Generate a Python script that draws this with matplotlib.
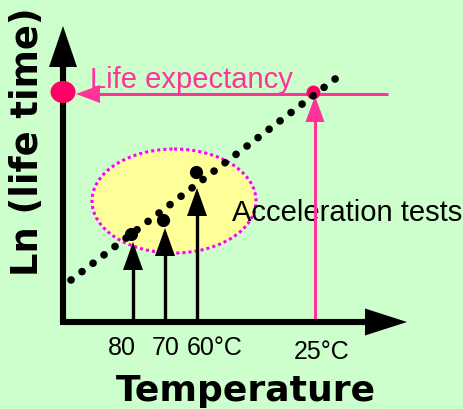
import numpy as np
import matplotlib
matplotlib.use("Agg")
import matplotlib.pyplot as plt
from matplotlib.patches import Ellipse

BG, PINK, CRIMSON, MAGENTA, YELLOW = "#CCFFCC", "#FF3399", "#FF0066", "#FF00FF", "#FFFF99"

# --- diagram values (pixel space, y grows downwards) --------------------------
test_labels = ["80", "70", "60°C"]
test_label_x = [122, 166, 215]
test_x = [133, 165, 197]          # upward arrows from the temperature axis
test_tip_y = [243, 229, 189]
test_pt_x = [131, 163, 196]       # measured life times at each test temperature
test_pt_y = [235, 221, 173]

fit_x = [71, 339]                 # extrapolated Arrhenius line
fit_y = [281, 77]

use_label = "25°C"
use_x = 315
life_y = 94
life_axis_x = 63

axis_origin = (63, 323)
axis_y_top = 27
axis_x_end = 407


def arrow(ax, x0, y0, x1, y1, color, lw, head_len, head_w, z=3):
    """Straight shaft plus a filled triangular head ending at (x1, y1)."""
    d = np.array([x1 - x0, y1 - y0], float)
    d /= np.hypot(*d)
    n = np.array([-d[1], d[0]])
    tip = np.array([x1, y1], float)
    base = tip - d * head_len
    ax.plot([x0, base[0] + d[0]], [y0, base[1] + d[1]], color=color, lw=lw,
            solid_capstyle="butt", zorder=z)
    head = np.array([tip, base + n * head_w / 2, base - n * head_w / 2])
    ax.fill(head[:, 0], head[:, 1], color=color, lw=0, zorder=z)


fig = plt.figure(figsize=(4.64, 4.10), dpi=100, facecolor=BG)
ax = fig.add_axes([0, 0, 1, 1])
ax.set_xlim(0, 464)
ax.set_ylim(410, 0)
ax.set_facecolor(BG)
ax.axis("off")

# acceleration test region
ax.add_patch(Ellipse((174, 202), 164, 104, facecolor=YELLOW, edgecolor=MAGENTA,
                     lw=2.2, ls=(0, (1, 1)), zorder=1))

# axes with arrow heads
ox, oy = axis_origin
ax.plot([ox, ox, axis_x_end - 42], [axis_y_top + 41, oy, oy], color="black",
        lw=4.4, solid_joinstyle="miter", solid_capstyle="butt", zorder=4)
arrow(ax, ox, axis_y_top + 45, ox, axis_y_top, "black", 4.4, 41, 28, z=4)
arrow(ax, axis_x_end - 46, oy, axis_x_end, oy, "black", 4.4, 42, 27, z=4)

# life expectancy read-off at use temperature
arrow(ax, use_x, oy, use_x, life_y + 3, PINK, 2.2, 26, 19, z=2)
arrow(ax, 388, life_y + 1, life_axis_x + 13, life_y + 1, PINK, 2.2, 24, 18, z=2)
ax.add_patch(Ellipse((life_axis_x, life_y - 1), 25, 22, color=CRIMSON, lw=0, zorder=5))
ax.plot(use_x - 2, life_y - 1, "o", ms=10, color=CRIMSON, mec="none", zorder=2)

# test arrows and measured points
for x, ty in zip(test_x, test_tip_y):
    arrow(ax, x, oy, x, ty, "black", 2.4, 28, 20, z=3)
ax.plot(test_pt_x, test_pt_y, "o", ms=9.5, color="black", mec="none", zorder=3)

# extrapolation line, round dots
ax.plot(fit_x, fit_y, color="black", lw=5.5, dashes=(0.01, 1.8),
        dash_capstyle="round", zorder=3)

# texts
ax.text(90, 88, "Life expectancy", color=PINK, fontsize=21,
        family="Liberation Sans", va="baseline", ha="left", zorder=2)
ax.text(232, 221, "Acceleration tests", color="black", fontsize=21,
        family="Liberation Sans", va="baseline", ha="left", zorder=1.5)
for lab, x in zip(test_labels, test_label_x):
    ax.text(x, 355, lab, fontsize=18, family="Liberation Sans",
            ha="center", va="baseline")
ax.text(322, 359, use_label, fontsize=18, family="Liberation Sans",
        ha="center", va="baseline")
ax.text(246, 401, "Temperature", fontsize=26, fontweight="bold",
        family="DejaVu Sans", ha="center", va="baseline")
ax.text(28, 142, "Ln (life time)", fontsize=26.5, fontweight="bold",
        family="DejaVu Sans", ha="center", va="center", rotation=90)

fig.savefig("out.png", dpi=100, facecolor=BG)
